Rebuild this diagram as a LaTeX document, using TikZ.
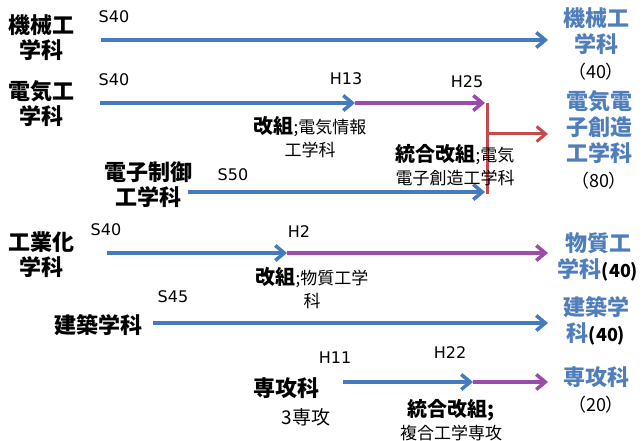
\documentclass[tikz,border=0pt]{standalone}
\usepackage{fontspec}
\setmainfont{Noto Sans CJK JP}
\newfontfamily\latf{DejaVu Sans}
\usetikzlibrary{arrows.meta}
\definecolor{cblue}{RGB}{70,122,190}
\definecolor{cpurp}{RGB}{155,75,170}
\definecolor{cred}{RGB}{195,75,75}
\definecolor{tblue}{RGB}{80,126,187}
\begin{document}
\begin{tikzpicture}[x=1pt,y=-1pt,
  arr/.style={line width=3.5pt,-{Straight Barb[length=9pt,width=15pt]}},
  bl/.style={arr,draw=cblue},
  pu/.style={arr,draw=cpurp},
  lab/.style={font=\fontsize{22}{25}\selectfont\bfseries,align=center,inner sep=0pt},
  yr/.style={font=\latf\fontsize{16}{18}\selectfont,inner sep=0pt},
  note/.style={font=\fontsize{17}{23}\selectfont,align=center,inner sep=0pt},
  res/.style={font=\fontsize{22}{26}\selectfont\bfseries,text=tblue,align=center,inner sep=0pt}
]
\useasboundingbox (0,0) rectangle (643,441);
% coordinates
\coordinate (a1s) at (101,40); \coordinate (a1e) at (548,40);
\coordinate (a2s) at (100,103); \coordinate (a2m) at (355,103); \coordinate (a2e) at (485,103);
\coordinate (rtop) at (487,103); \coordinate (rbot) at (487,194);
\coordinate (rbs) at (487,134); \coordinate (rbe) at (548,134);
\coordinate (a3s) at (188,192); \coordinate (a3e) at (485,192);
\coordinate (a4s) at (107,253); \coordinate (a4m) at (287,253); \coordinate (a4e) at (548,253);
\coordinate (a5s) at (153,323); \coordinate (a5e) at (548,323);
\coordinate (a6s) at (343,382); \coordinate (a6m) at (473,382); \coordinate (a6e) at (548,382);
% arrows
\draw[bl] (a1s) -- (a1e);
\draw[bl] (a2s) -- (a2m);
\draw[pu] (a2m) -- (a2e);
\draw[line width=3pt,cred] (rtop) -- (rbot);
\draw[line width=3pt,draw=cred,-{Straight Barb[length=9pt,width=15pt]}] (rbs) -- (rbe);
\draw[bl] (a3s) -- (a3e);
\draw[bl] (a4s) -- (a4m);
\draw[pu] (a4m) -- (a4e);
\draw[bl] (a5s) -- (a5e);
\draw[bl] (a6s) -- (a6m);
\draw[pu] (a6m) -- (a6e);
% left labels
\node[lab] (lk) at (42,38) {機械工\\学科};
\node[lab] (le) at (42,104) {電気工\\学科};
\node[lab] (lec) at (148,185) {電子制御\\工学科};
\node[lab] (lc) at (42,255) {工業化\\学科};
\node[lab] (lken) at (98,325) {建築学科};
\node[lab] (lsen) at (286,388) {専攻科};
\node[note,font=\fontsize{19}{22}\selectfont] (lsen2) at (306,417) {3専攻};
% years
\node[yr] (y1) at (114,17) {S40};
\node[yr] (y2) at (114,80) {S40};
\node[yr] (y3) at (233,175) {S50};
\node[yr] (y4) at (106,230) {S40};
\node[yr] (y5) at (173,297) {S45};
\node[yr] (h13) at (346,79) {H13};
\node[yr] (h25) at (467,82) {H25};
\node[yr] (h2) at (299,232) {H2};
\node[yr] (h11) at (335,358) {H11};
\node[yr] (h22) at (450,353) {H22};
% notes
\node[note] (n1) at (310,137) {{\fontsize{20}{23}\selectfont\bfseries 改組};電気情報\\工学科};
\node[note] (n2) at (455,165) {{\fontsize{20}{23}\selectfont\bfseries 統合改組};電気\\電子創造工学科};
\node[note] (n3) at (312,288) {{\fontsize{20}{23}\selectfont\bfseries 改組};物質工学\\科};
\node[note] (n4) at (451,420) {{\fontsize{20}{23}\selectfont\bfseries 統合改組;}\\複合工学専攻};
% results
\node[res] (r1) at (596,44) {機械工\\学科\\{\fontsize{18}{20}\selectfont\mdseries\color{black}（40）}};
\node[res] (r2) at (599,140) {電気電\\子創造\\工学科\\{\fontsize{18}{20}\selectfont\mdseries\color{black}（80）}};
\node[res] (r3) at (598,257) {物質工\\学科{\fontsize{18}{20}\selectfont\color{black}(40)}};
\node[res] (r4) at (596,321) {建築学\\科{\fontsize{18}{20}\selectfont\color{black}(40)}};
\node[res] (r5) at (596,390) {専攻科\\{\fontsize{18}{20}\selectfont\mdseries\color{black}（20）}};
\end{tikzpicture}
\end{document}
